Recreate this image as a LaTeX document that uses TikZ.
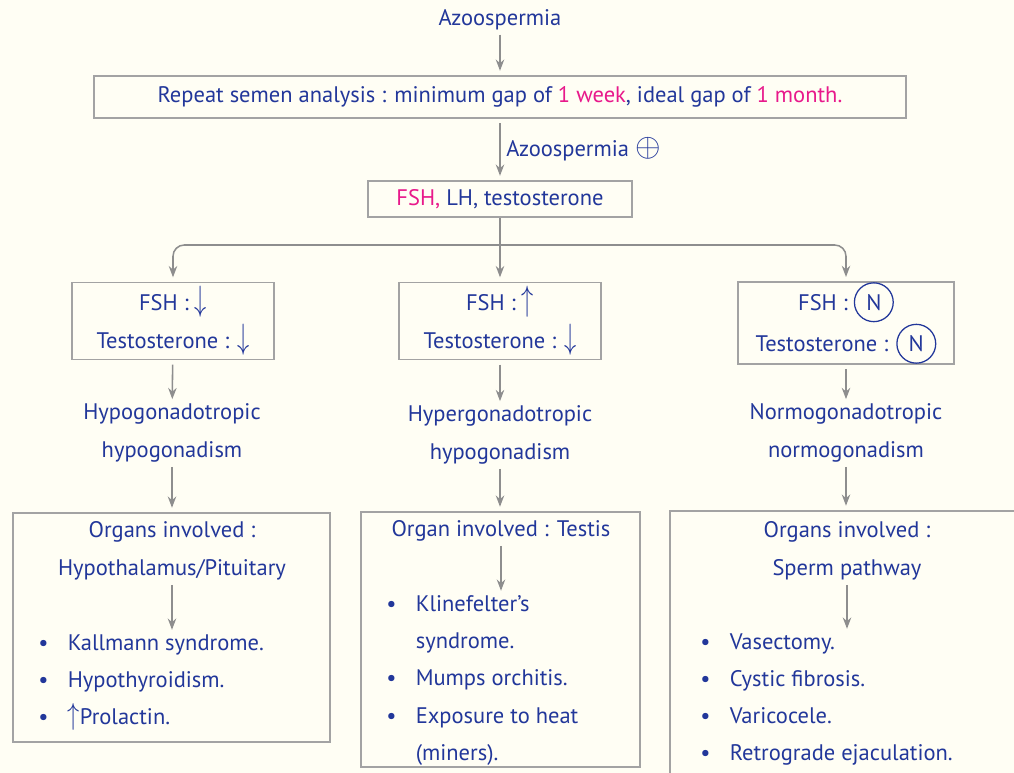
\documentclass[tikz,border=0pt]{standalone}
\usepackage{fontspec}
\setmainfont{PT Sans}
\usetikzlibrary{arrows.meta,positioning,calc}
\definecolor{cInk}{HTML}{22379A}
\definecolor{cHot}{HTML}{E8198B}
\definecolor{cLine}{HTML}{A3A3A3}
\definecolor{cArrow}{HTML}{8E8E8E}
\definecolor{cPaper}{HTML}{FFFEF4}
\newcommand{\hl}[1]{\textcolor{cHot}{#1}}
\newcommand{\nrm}{\tikz[baseline=(nn.base)]\node[draw=cInk, circle, line width=0.9pt, inner sep=4.2pt, minimum width=0pt, minimum height=0pt, text=cInk] (nn) {N};}
\newcommand{\dn}{\scalebox{1}[1.45]{$\downarrow$}}
\newcommand{\up}{\scalebox{1}[1.45]{$\uparrow$}}
\newcommand{\bul}{\makebox[21pt][l]{\textbullet}}
\newcommand{\nobul}{\makebox[21pt]{}}
\tikzset{
  box/.style={draw=cLine, line width=1.4pt, inner sep=0pt},
  txt/.style={text=cInk, align=center, font=\fontsize{16}{27}\selectfont, inner sep=0pt},
  lst/.style={text=cInk, align=left, font=\fontsize{16}{26.5}\selectfont, inner sep=0pt},
  flow/.style={-{Stealth[length=8pt,width=6pt]}, line width=1.1pt, draw=cArrow, shorten >=3pt, shorten <=3pt},
}
\begin{document}
\begin{tikzpicture}[x=0.025cm, y=-0.025cm]
  \fill[cPaper] (0,0) rectangle (1014,773);
  \useasboundingbox (0,0) rectangle (1014,773);
  \clip (0,0) rectangle (1014,773);
  % top of the chart
  \node[txt] (azo) at (500,20) {Azoospermia};
  \node[box, txt, minimum width=20.3cm, minimum height=1.05cm] (rep) at (500,97) {Repeat semen analysis : minimum gap of \hl{1 week}, ideal gap of \hl{1 month.}};
  \node[box, txt, minimum width=6.6cm, minimum height=0.9cm] (hor) at (500,199) {\hl{FSH,} LH, testosterone};
  \draw[flow] (azo) -- (rep);
  \draw[flow] (rep) -- node[txt, right=4pt] {Azoospermia \scalebox{1.35}{$\oplus$}} (hor);
  % three branches
  \coordinate (split) at (500,245);
  \node[box, txt, minimum width=5.05cm, minimum height=1.925cm] (lowB) at (173,321) {FSH : \dn\\Testosterone : \dn};
  \node[box, txt, minimum width=5.05cm, minimum height=1.925cm] (midB) at (500,321) {FSH : \up\\Testosterone : \dn};
  \node[box, txt, minimum width=5.4cm, minimum height=2cm] (nrmB) at (846,323) {FSH : \nrm\\Testosterone : \nrm};
  \draw[flow, shorten <=0pt] (hor) -- (midB);
  \draw[flow, rounded corners=8pt, shorten <=0pt] (split) -| (lowB);
  \draw[flow, rounded corners=8pt, shorten <=0pt] (split) -| (nrmB);
  % diagnoses
  \node[txt] (lowD) at (172,433) {Hypogonadotropic\\hypogonadism};
  \node[txt] (midD) at (500,435) {Hypergonadotropic\\hypogonadism};
  \node[txt] (nrmD) at (846,433) {Normogonadotropic\\normogonadism};
  \draw[flow] (lowB) -- (lowD);
  \draw[flow] (midB) -- (midD);
  \draw[flow] (nrmB) -- (nrmD);
  % organ boxes
  \node[box, minimum width=7.925cm, minimum height=5.725cm] (lowO) at (171.5,627.5) {};
  \node[box, minimum width=6.975cm, minimum height=6.375cm] (midO) at (500.5,639.5) {};
  \node[box, minimum width=9cm, minimum height=7.25cm] (nrmO) at (850,656) {};
  \draw[flow] (lowD) -- (lowD |- lowO.north);
  \draw[flow] (midD) -- (midD |- midO.north);
  \draw[flow] (nrmD) -- (nrmD |- nrmO.north);
  \node[txt] (lowT) at (172,551) {Organs involved :\\Hypothalamus/Pituitary};
  \node[txt] (midT) at (501,531) {Organ involved : Testis};
  \node[txt] (nrmT) at (847,551) {Organs involved :\\Sperm pathway};
  \node[lst, anchor=north west] (lowL) at (38,634) {\bul Kallmann syndrome.\\\bul Hypothyroidism.\\\bul \scalebox{1}[1.25]{$\uparrow$}Prolactin.};
  \node[lst, anchor=north west] (midL) at (386,595) {\bul Klinefelter’s\\\nobul syndrome.\\\bul Mumps orchitis.\\\bul Exposure to heat\\\nobul (miners).};
  \node[lst, anchor=north west] (nrmL) at (700,633) {\bul Vasectomy.\\\bul Cystic fibrosis.\\\bul Varicocele.\\\bul Retrograde ejaculation.};
  \draw[flow] (lowT) -- (lowT |- lowL.north);
  \draw[flow] (midT) -- (midT |- midL.north);
  \draw[flow] (nrmT) -- (nrmT |- nrmL.north);
\end{tikzpicture}
\end{document}
